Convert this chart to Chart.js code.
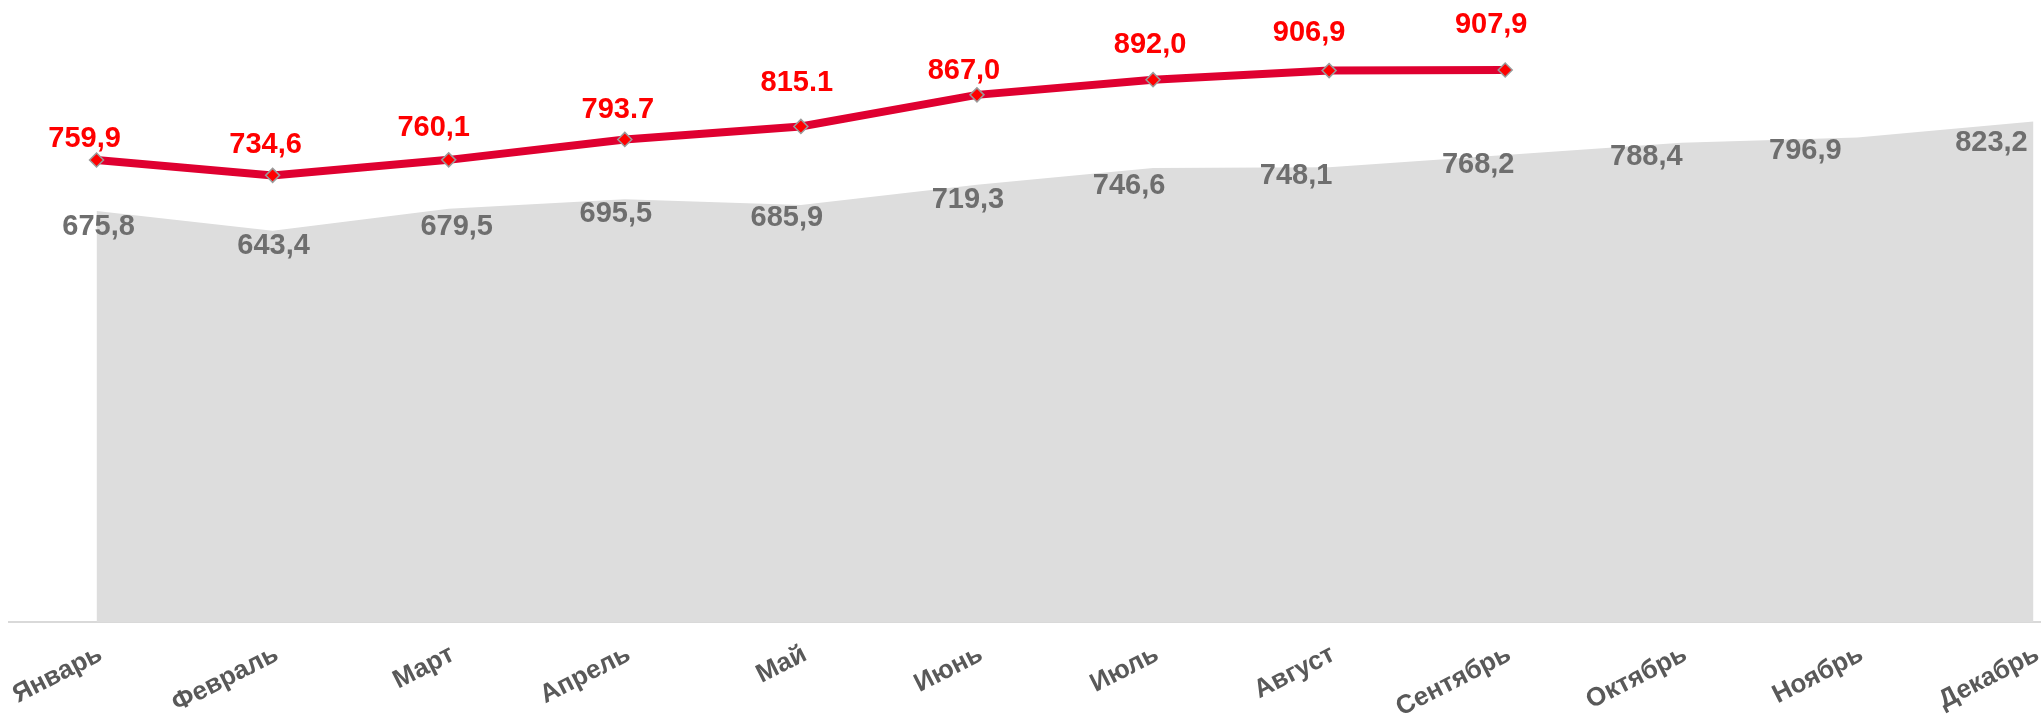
<!DOCTYPE html>
<html>
<head>
<meta charset="utf-8">
<script src="https://cdn.jsdelivr.net/npm/chart.js@4.4.1/dist/chart.umd.min.js"></script>
<style>
  html, body { margin: 0; padding: 0; background: #ffffff; overflow: hidden; }
  #wrap { position: relative; width: 2130px; height: 724px; }
</style>
</head>
<body>
<div id="wrap"><canvas id="c"></canvas></div>
<script>
// ---- data ----
const months = ['Январь','Февраль','Март','Апрель','Май','Июнь','Июль','Август','Сентябрь','Октябрь','Ноябрь','Декабрь'];
const prevYear = [675.8, 643.4, 679.5, 695.5, 685.9, 719.3, 746.6, 748.1, 768.2, 788.4, 796.9, 823.2];
const currYear = [759.9, 734.6, 760.1, 793.7, 815.1, 867.0, 892.0, 906.9, 907.9, null, null, null];
const prevYearText = ['675,8','643,4','679,5','695,5','685,9','719,3','746,6','748,1','768,2','788,4','796,9','823,2'];
const currYearText = ['759,9','734,6','760,1','793.7','815.1','867,0','892,0','906,9','907,9'];

// ---- label nudges (pixels, relative to each point) ----
const currDx   = [-12, -7, -15, -7, -4, -13, -3, -20, -14];
const currRise = [13, 22, 24, 21, 35, 16, 27, 30, 37];
const prevDx   = [2, 1, 8, -9, -14, -9, -24, -33, -27, -35, -52, -42];
const prevDrop = [16, 15, 18, 15, 13, 15, 18, 9, 10, 14, 14, 22];

const FONT = "'Liberation Sans', Arial, sans-serif";

const labelPlugin = {
  id: 'valueLabels',
  afterDatasetsDraw(chart) {
    const ctx = chart.ctx;
    ctx.save();
    ctx.font = 'bold 29px ' + FONT;
    ctx.textAlign = 'center';
    // previous-year labels (grey)
    const m1 = chart.getDatasetMeta(1);
    ctx.fillStyle = '#6E6E6E';
    ctx.textBaseline = 'middle';
    m1.data.forEach((pt, i) => {
      ctx.fillText(prevYearText[i], pt.x + prevDx[i], pt.y + prevDrop[i]);
    });
    // current-year labels (red)
    const m0 = chart.getDatasetMeta(0);
    ctx.fillStyle = '#FF0000';
    ctx.textBaseline = 'alphabetic';
    m0.data.forEach((pt, i) => {
      if (currYear[i] === null) return;
      ctx.fillText(currYearText[i], pt.x + currDx[i], pt.y - currRise[i]);
    });
    ctx.restore();
  }
};

new Chart(document.getElementById('c'), {
  type: 'line',
  data: {
    labels: months,
    datasets: [
      {
        label: 'current',
        data: currYear,
        borderColor: '#DF0030',
        borderWidth: 8,
        tension: 0,
        fill: false,
        spanGaps: false,
        pointStyle: 'rectRot',
        pointRadius: 7,
        pointHoverRadius: 7,
        pointBackgroundColor: '#FF0000',
        pointBorderColor: '#9A9A9A',
        pointBorderWidth: 1.5
      },
      {
        label: 'previous',
        data: prevYear,
        borderWidth: 0,
        borderColor: 'rgba(0,0,0,0)',
        backgroundColor: '#DDDDDD',
        fill: 'origin',
        tension: 0,
        pointRadius: 0,
        pointHoverRadius: 0
      }
    ]
  },
  options: {
    responsive: true,
    maintainAspectRatio: false,
    devicePixelRatio: 1,
    animation: false,
    events: [],
    layout: { padding: { left: 4.5, right: 1.5, top: 14, bottom: 0 } },
    plugins: {
      legend: { display: false },
      tooltip: { enabled: false },
      title: { display: false }
    },
    scales: {
      x: {
        offset: true,
        grid: { display: false, drawTicks: false },
        border: { display: true, color: '#D9D9D9', width: 2 },
        ticks: {
          autoSkip: false,
          minRotation: 27,
          maxRotation: 27,
          padding: 17,
          labelOffset: 4,
          color: '#595959',
          font: { family: FONT, size: 26, weight: 'bold' }
        },
        afterFit(scale) {
          scale.height = 102;
          scale.paddingLeft = 0;
          scale.paddingRight = 0;
        }
      },
      y: {
        display: false,
        min: 0,
        max: 1000
      }
    }
  },
  plugins: [labelPlugin]
});
</script>
</body>
</html>
